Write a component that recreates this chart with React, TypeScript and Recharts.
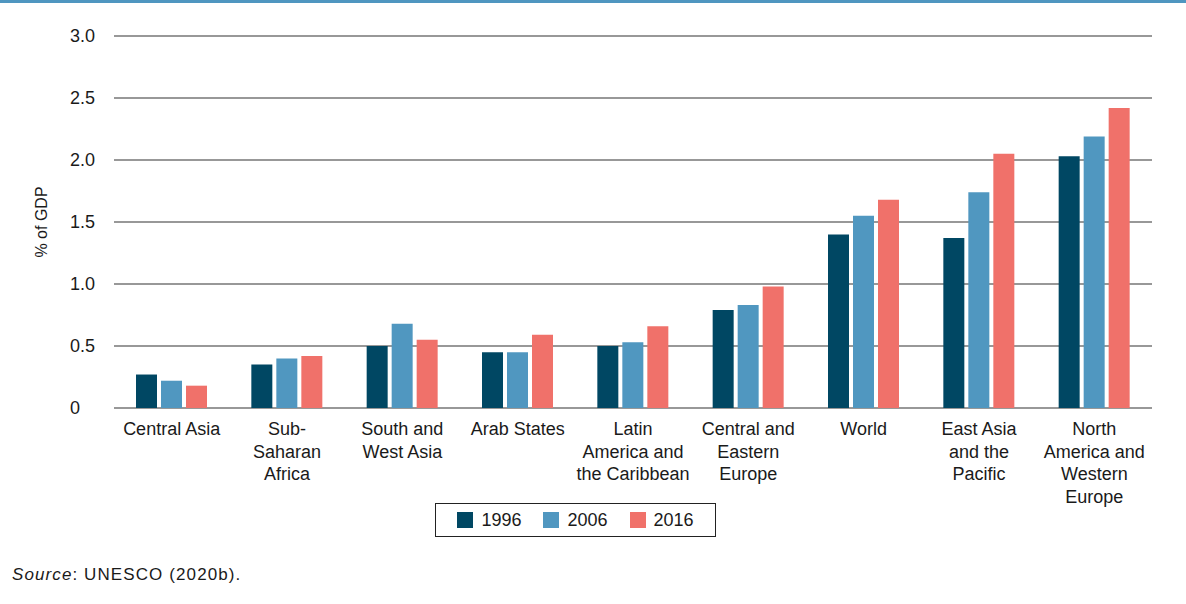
import React from 'react';
import { BarChart, Bar, XAxis, YAxis, CartesianGrid } from 'recharts';

const categories = [
  'Central Asia',
  'Sub-\nSaharan\nAfrica',
  'South and\nWest Asia',
  'Arab States',
  'Latin\nAmerica and\nthe Caribbean',
  'Central and\nEastern\nEurope',
  'World',
  'East Asia\nand the\nPacific',
  'North\nAmerica and\nWestern\nEurope',
];

const values1996 = [0.27, 0.35, 0.5, 0.45, 0.5, 0.79, 1.4, 1.37, 2.03];
const values2006 = [0.22, 0.4, 0.68, 0.45, 0.53, 0.83, 1.55, 1.74, 2.19];
const values2016 = [0.18, 0.42, 0.55, 0.59, 0.66, 0.98, 1.68, 2.05, 2.42];

const yTicks = [0, 0.5, 1, 1.5, 2, 2.5, 3];

const series = [
  { key: 'y1996', name: '1996', color: '#004763' },
  { key: 'y2006', name: '2006', color: '#5097c0' },
  { key: 'y2016', name: '2016', color: '#f0716a' },
];

const data = categories.map((c, i) => ({
  category: c,
  y1996: values1996[i],
  y2006: values2006[i],
  y2016: values2016[i],
}));

const FONT = '"Liberation Sans", Arial, Helvetica, sans-serif';

const XTick = (props: any) => {
  const { x, y, payload } = props;
  const lines = String(payload.value).split('\n');
  return (
    <text x={x} y={y} textAnchor="middle" fill="#1a1a1a" fontSize={18} fontFamily={FONT}>
      {lines.map((l, i) => (
        <tspan key={i} x={x} dy={i === 0 ? 19 : 22.5}>
          {l}
        </tspan>
      ))}
    </text>
  );
};

const YTick = (props: any) => {
  const { y, payload } = props;
  const v = payload.value as number;
  return (
    <text x={70} y={y} dy={6} textAnchor="start" fill="#1a1a1a" fontSize={18} fontFamily={FONT}>
      {v === 0 ? '0' : v.toFixed(1)}
    </text>
  );
};

const YLabel = (props: any) => {
  const { viewBox } = props;
  const cy = viewBox.y + viewBox.height / 2;
  return (
    <text
      x={47}
      y={cy}
      transform={`rotate(-90, 47, ${cy})`}
      textAnchor="middle"
      fill="#1a1a1a"
      fontSize={16}
      fontFamily={FONT}
    >
      % of GDP
    </text>
  );
};

export default function App() {
  return (
    <div style={{ position: 'relative', width: 1186, height: 604, background: '#fff', fontFamily: FONT }}>
      <style>{'body{margin:0}'}</style>
      <div style={{ position: 'absolute', left: 0, top: 0, width: 1186, height: 3, background: '#4f96c0' }} />
      <BarChart
        width={1186}
        height={604}
        data={data}
        margin={{ top: 36, right: 34, left: 0, bottom: 96 }}
        barGap={4}
        barSize={21}
      >
        <CartesianGrid vertical={false} stroke="#333" strokeWidth={1.2} />
        <XAxis
          dataKey="category"
          axisLine={false}
          tickLine={false}
          interval={0}
          height={100}
          tick={<XTick />}
        />
        <YAxis
          width={114}
          domain={[0, 3]}
          ticks={yTicks}
          axisLine={false}
          tickLine={false}
          tick={<YTick />}
          label={<YLabel />}
        />
        {series.map((s) => (
          <Bar key={s.key} dataKey={s.key} name={s.name} fill={s.color} isAnimationActive={false} />
        ))}
      </BarChart>
      <div
        style={{
          position: 'absolute',
          left: 435,
          top: 503,
          width: 281,
          height: 34,
          boxSizing: 'border-box',
          border: '1.5px solid #222',
          display: 'flex',
          alignItems: 'center',
          justifyContent: 'center',
          gap: 22,
          fontSize: 18,
          color: '#1a1a1a',
        }}
      >
        {series.map((s) => (
          <div key={s.key} style={{ display: 'flex', alignItems: 'center', gap: 8 }}>
            <span style={{ display: 'inline-block', width: 16, height: 16, background: s.color }} />
            <span>{s.name}</span>
          </div>
        ))}
      </div>
      <div style={{ position: 'absolute', left: 12, top: 565, fontSize: 17, color: '#1a1a1a', letterSpacing: 1.1 }}>
        <i>Source</i>: UNESCO (2020b).
      </div>
    </div>
  );
}
